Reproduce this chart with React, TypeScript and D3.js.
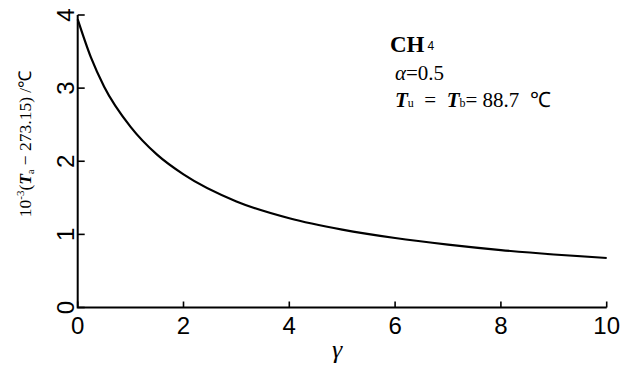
import React from "react";
import * as d3 from "d3";

// Reduced adiabatic temperature vs. γ for CH4
const gammaValues = [0, 0.25, 0.5, 1, 1.5, 2, 3, 4, 5, 6, 7, 8, 9, 10];
const tempValues = [3.94, 3.42, 3.02, 2.47, 2.09, 1.82, 1.45, 1.22, 1.065, 0.95, 0.86, 0.785, 0.725, 0.677];
const xTicks = [0, 2, 4, 6, 8, 10];
const yTicks = [0, 1, 2, 3, 4];

const W = 621;
const H = 365;

export default function App() {
  const x = d3.scaleLinear().domain([0, 10]).range([77.7, 606.7]);
  const y = d3.scaleLinear().domain([0, 4]).range([307.5, 15]);
  const pts: [number, number][] = gammaValues.map((g, i) => [g, tempValues[i]]);
  const line = d3
    .line<[number, number]>()
    .x((d) => x(d[0]))
    .y((d) => y(d[1]))
    .curve(d3.curveMonotoneX);

  const sans = "'Liberation Sans', Arial, sans-serif";
  const serif = "'Liberation Serif', 'Times New Roman', serif";

  return (
    <svg
      width={W}
      height={H}
      style={{ position: "absolute", left: 0, top: 0, background: "#fff" }}
    >
      {/* axes */}
      <path
        d={`M${x(0)},${y(4)} V${y(0)} H${x(10)}`}
        fill="none"
        stroke="#000"
        strokeWidth={2}
      />
      {xTicks.map((t) => (
        <g key={`xt${t}`}>
          <line x1={x(t)} x2={x(t)} y1={y(0)} y2={y(0) - 6} stroke="#000" strokeWidth={1.6} />
          <text
            x={x(t)}
            y={334}
            textAnchor="middle"
            fontFamily={sans}
            fontSize={24}
            fill="#000"
          >
            {t}
          </text>
        </g>
      ))}
      {yTicks.map((t) => (
        <g key={`yt${t}`}>
          <line x1={x(0)} x2={x(0) + 7} y1={y(t)} y2={y(t)} stroke="#000" strokeWidth={1.6} />
          <text
            transform={`translate(74,${y(t)}) rotate(-90)`}
            textAnchor="middle"
            fontFamily={sans}
            fontSize={24}
            fill="#000"
          >
            {t}
          </text>
        </g>
      ))}

      {/* curve */}
      <path d={line(pts) ?? ""} fill="none" stroke="#000" strokeWidth={2.2} />

      {/* axis titles */}
      <text
        x={337}
        y={358}
        textAnchor="middle"
        fontFamily={serif}
        fontStyle="italic"
        fontSize={26}
        fill="#000"
      >
        γ
      </text>
      <text
        transform="translate(31,144) rotate(-90)"
        textAnchor="middle"
        fontFamily={serif}
        fontSize={17.5}
        fill="#000"
      >
        10
        <tspan fontSize={11} dy={-7}>
          -3
        </tspan>
        <tspan dy={7}>(</tspan>
        <tspan fontStyle="italic" fontWeight="bold">
          T
        </tspan>
        <tspan fontSize={10} dy={3}>
          a
        </tspan>
        <tspan dy={-3}> − 273.15) /℃</tspan>
      </text>

      {/* annotation */}
      <text x={390} y={52} fontFamily={serif} fontSize={23} fontWeight="bold" fill="#000">
        CH
        <tspan fontFamily={sans} fontWeight="normal" fontSize={12} dx={3} dy={-2}>
          4
        </tspan>
      </text>
      <text x={395} y={80} fontFamily={serif} fontSize={21} fill="#000">
        <tspan fontStyle="italic">α</tspan>
        <tspan>=0.5</tspan>
      </text>
      <text x={395} y={107} fontFamily={serif} fontSize={21} fill="#000" style={{ whiteSpace: "pre" }}>
        <tspan fontStyle="italic" fontWeight="bold">T</tspan>
        <tspan fontSize={12}>u</tspan>
        <tspan>{"  =  "}</tspan>
        <tspan fontStyle="italic" fontWeight="bold">T</tspan>
        <tspan fontSize={12}>b</tspan>
        <tspan>{"= 88.7  ℃"}</tspan>
      </text>
    </svg>
  );
}
